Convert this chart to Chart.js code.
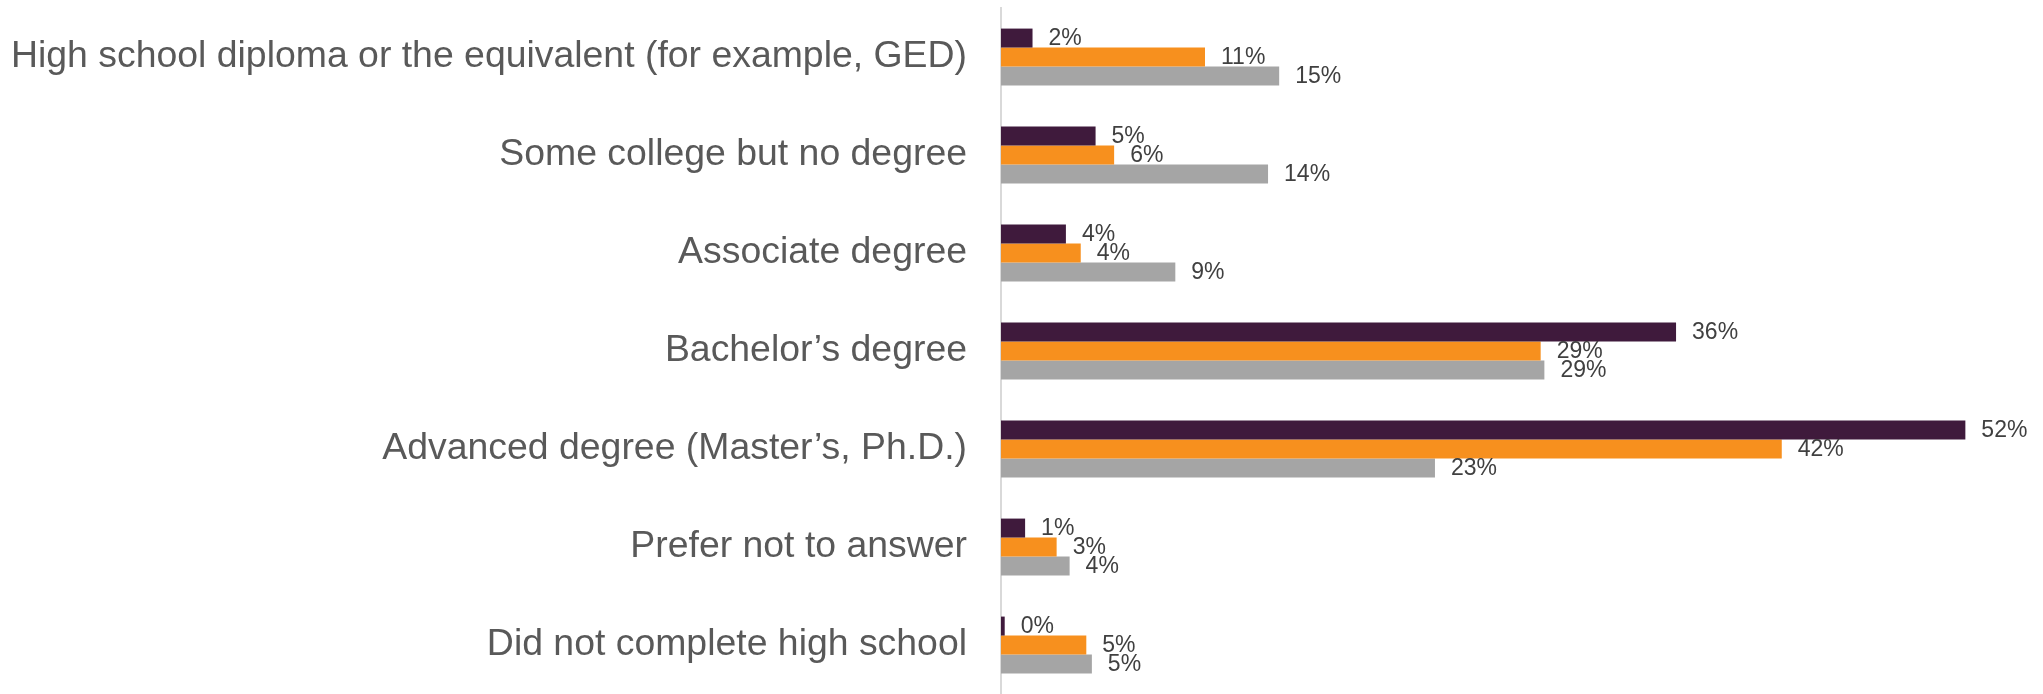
<!DOCTYPE html>
<html>
<head>
<meta charset="utf-8">
<script src="https://cdn.jsdelivr.net/npm/chart.js@4/dist/chart.umd.min.js"></script>
<style>
  html, body { margin: 0; padding: 0; background: #fff; overflow: hidden; }
  #wrap { position: relative; width: 2043px; height: 694px; }
</style>
</head>
<body>
<div id="wrap"><canvas id="chart"></canvas></div>
<script>
const categories = [
  "High school diploma or the equivalent (for example, GED)",
  "Some college but no degree",
  "Associate degree",
  "Bachelor\u2019s degree",
  "Advanced degree (Master\u2019s, Ph.D.)",
  "Prefer not to answer",
  "Did not complete high school"
];

const seriesNames = ["Series 1", "Series 2", "Series 3"];
const series1 = [1.7, 5.1, 3.5, 36.4, 52.0, 1.3, 0.2];
const series2 = [11.0, 6.1, 4.3, 29.1, 42.1, 3.0, 4.6];
const series3 = [15.0, 14.4, 9.4, 29.3, 23.4, 3.7, 4.9];
const seriesColors = ["#3F1A3C", "#F7901E", "#A5A5A5"];

// value labels drawn right of each bar
const valueLabels = {
  id: "valueLabels",
  afterDatasetsDraw(chart) {
    const ctx = chart.ctx;
    ctx.save();
    ctx.font = "23px 'Liberation Sans', Arial, sans-serif";
    ctx.fillStyle = "#404040";
    ctx.textAlign = "left";
    ctx.textBaseline = "middle";
    chart.data.datasets.forEach((ds, i) => {
      const meta = chart.getDatasetMeta(i);
      meta.data.forEach((bar, j) => {
        ctx.fillText(Math.round(ds.data[j]) + "%", bar.x + 16, bar.y + 1);
      });
    });
    ctx.restore();
  }
};

new Chart(document.getElementById("chart"), {
  type: "bar",
  data: {
    labels: categories,
    datasets: [series1, series2, series3].map((d, i) => ({
      label: seriesNames[i],
      data: d,
      backgroundColor: seriesColors[i],
      borderWidth: 0,
      barPercentage: 1.0,
      categoryPercentage: 0.58
    }))
  },
  options: {
    indexAxis: "y",
    responsive: true,
    maintainAspectRatio: false,
    animation: false,
    layout: { padding: { top: 8, right: 22, bottom: 0, left: 0 } },
    plugins: {
      legend: { display: false },
      tooltip: { enabled: false }
    },
    scales: {
      x: {
        display: false,
        min: 0,
        max: 55
      },
      y: {
        afterFit: (s) => {
          s.width = 1001;
          s.paddingTop = 0;
          s.paddingBottom = 0;
        },
        grid: { display: true, color: "transparent", drawTicks: false },
        border: { display: true, color: "#D9D9D9", width: 2 },
        ticks: {
          autoSkip: false,
          padding: 34,
          color: "#595959",
          font: { family: "'Liberation Sans', Arial, sans-serif", size: 37.4 }
        }
      }
    }
  },
  plugins: [valueLabels]
});
</script>
</body>
</html>
